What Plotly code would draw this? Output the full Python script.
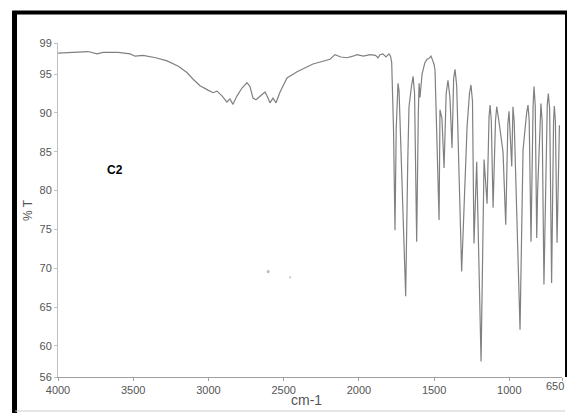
import plotly.graph_objects as go

# IR spectrum of C2
wavenumber = [4000, 3900, 3800, 3741, 3700, 3600, 3520, 3488, 3435, 3350, 3275, 3200, 3143, 3100,
              3056, 3000, 2970, 2943, 2910, 2877, 2857, 2837, 2810, 2777, 2744, 2724, 2704, 2684,
              2657, 2624, 2611, 2591, 2571, 2551, 2524, 2478, 2411, 2305, 2192, 2159, 2120, 2079,
              2040, 2013, 1970, 1926, 1890, 1873, 1860, 1840, 1820, 1800, 1790, 1782, 1770, 1760,
              1752, 1745, 1740, 1733, 1715, 1689, 1675, 1667, 1650, 1640, 1630, 1616, 1605, 1600,
              1594, 1580, 1561, 1547, 1535, 1521, 1510, 1500, 1494, 1487, 1467, 1461, 1448, 1434,
              1420, 1408, 1395, 1381, 1370, 1361, 1350, 1317, 1281, 1265, 1255, 1245, 1235, 1217,
              1188, 1168, 1148, 1135, 1128, 1120, 1108, 1092, 1084, 1070, 1042, 1024, 1010, 1002,
              984, 976, 968, 929, 909, 885, 876, 868, 856, 842, 836, 828, 818, 812, 795, 790,
              782, 770, 748, 741, 732, 719, 706, 701, 694, 683, 667]
transmittance = [97.7, 97.8, 97.9, 97.6, 97.8, 97.8, 97.6, 97.3, 97.4, 97.1, 96.7, 96.0, 95.2, 94.3,
                 93.5, 92.9, 92.6, 92.8, 92.2, 91.4, 91.8, 91.1, 92.2, 93.2, 93.9, 93.4, 91.9, 91.7,
                 92.1, 92.7, 92.2, 91.3, 91.9, 91.3, 92.7, 94.5, 95.3, 96.3, 96.9, 97.5, 97.2, 97.1,
                 97.3, 97.5, 97.3, 97.5, 97.4, 97.1, 97.5, 97.6, 97.2, 97.6, 97.3, 96.5, 88.0, 74.9,
                 88.0, 93.3, 93.8, 92.8, 82.0, 66.4, 84.0, 90.8, 93.5, 94.7, 92.5, 73.4, 90.0, 93.8,
                 92.0, 95.0, 96.5, 96.9, 97.0, 97.3, 96.8, 96.2, 95.5, 90.2, 76.2, 90.4, 89.3, 82.9,
                 92.5, 94.2, 92.0, 85.5, 94.5, 95.6, 93.5, 69.6, 88.2, 92.5, 93.6, 91.5, 73.2, 83.7,
                 58.0, 84.0, 78.3, 89.5, 91.0, 89.0, 77.8, 89.0, 90.8, 89.0, 85.0, 75.6, 88.5, 90.2,
                 83.1, 90.8, 89.0, 62.1, 85.2, 90.0, 91.0, 89.0, 73.4, 91.0, 93.4, 91.0, 73.9, 80.0,
                 89.5, 91.2, 89.0, 67.9, 91.0, 92.5, 90.5, 68.1, 89.0, 90.9, 89.0, 73.3, 88.4]

x_ticks = [4000, 3500, 3000, 2500, 2000, 1500, 1000, 650]
x_tick_labels = ["4000", "3500", "3000", "2500", "2000", "1500", "1000", ""]
last_x_label = "650"
y_ticks = [56, 60, 65, 70, 75, 80, 85, 90, 95, 99]

fig = go.Figure()
fig.add_trace(go.Scatter(x=wavenumber, y=transmittance, mode="lines",
                         line=dict(color="#808080", width=1.2), showlegend=False,
                         hoverinfo="x+y"))

font_family = "Liberation Sans, Arial, sans-serif"
fig.update_layout(
    width=567, height=413,
    margin=dict(l=58, r=5, t=43, b=36, autoexpand=False),
    paper_bgcolor="white", plot_bgcolor="white",
    font=dict(family=font_family, size=11, color="#555555"),
    xaxis=dict(range=[4000, 650], tickvals=x_ticks, ticktext=x_tick_labels,
               showgrid=False, zeroline=False, showline=True, linecolor="#a0a0a0", linewidth=1,
               ticks="outside", ticklen=3, tickcolor="#a0a0a0",
               automargin=False, tickfont=dict(size=11, color="#555555")),
    yaxis=dict(range=[56, 99], tickvals=y_ticks, ticktext=[str(v) for v in y_ticks],
               showgrid=False, zeroline=False, showline=True, linecolor="#c0c0c0", linewidth=1,
               ticks="outside", ticklen=3, tickcolor="#c0c0c0", automargin=False,
               tickfont=dict(size=11, color="#555555")),
    annotations=[
        dict(text="<b>C2</b>", x=3620, y=82.7, xref="x", yref="y", showarrow=False,
             font=dict(size=12, color="black", family=font_family)),
        dict(text=last_x_label, x=1.008, y=-0.027, xref="paper", yref="paper", showarrow=False,
             xanchor="right", yanchor="middle",
             font=dict(size=11, color="#555555", family=font_family)),
        dict(text="cm-1", x=0.494, y=-0.069, xref="paper", yref="paper", showarrow=False,
             xanchor="center", yanchor="middle",
             font=dict(size=14, color="#555555", family=font_family)),
        dict(text="% T", x=-0.0595, y=0.5, xref="paper", yref="paper", showarrow=False,
             xanchor="center", yanchor="middle",
             textangle=-90, font=dict(size=12, color="#555555", family=font_family)),
    ],
    shapes=[
        dict(type="line", xref="paper", yref="paper", x0=-0.0863, x1=-0.0863, y0=1.094, y1=-0.11,
             line=dict(color="black", width=5)),
        dict(type="line", xref="paper", yref="paper", x0=-0.091, x1=1.02, y0=1.091, y1=1.091,
             line=dict(color="black", width=4)),
        dict(type="line", xref="paper", yref="paper", x0=1.008, x1=1.008, y0=1.094, y1=0.0,
             line=dict(color="black", width=2)),
        dict(type="line", xref="paper", yref="paper", x0=-0.085, x1=1.006, y0=-0.1018, y1=-0.1018,
             line=dict(color="#cccccc", width=1)),
        dict(type="circle", xref="paper", yref="paper", x0=0.414, x1=0.420, y0=0.311, y1=0.320,
             fillcolor="#bbbbbb", line=dict(width=0)),
        dict(type="circle", xref="paper", yref="paper", x0=0.458, x1=0.463, y0=0.295, y1=0.302,
             fillcolor="#cccccc", line=dict(width=0)),
    ],
)

fig.write_html("out.html")
